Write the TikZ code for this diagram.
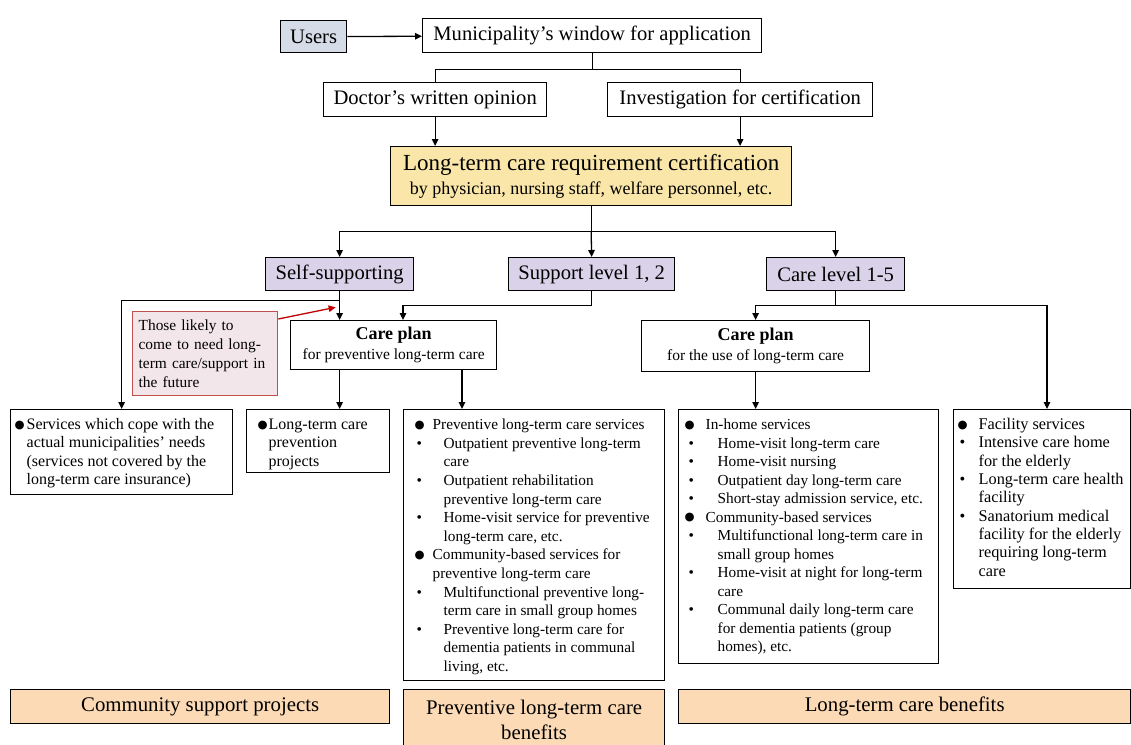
\documentclass[tikz,border=0pt]{standalone}
\usepackage{fontspec}
\setmainfont{Liberation Serif}
\newfontfamily\symf{DejaVu Sans}
\usetikzlibrary{arrows.meta,calc}
\definecolor{cUser}{RGB}{213,220,232}
\definecolor{cCert}{RGB}{249,230,168}
\definecolor{cLav}{RGB}{217,210,233}
\definecolor{cPink}{RGB}{243,230,234}
\definecolor{cRedB}{RGB}{192,80,77}
\definecolor{cRedA}{RGB}{192,0,0}
\definecolor{cPeach}{RGB}{251,218,181}
\newcommand\bigdot{\raisebox{1.6pt}{\symf\fontsize{11.5}{11.5}\selectfont ●}}
\newcommand\smdot{\textbullet}
\newcommand\itm[4]{\mbox{\makebox[#2][l]{\hspace*{#1}#3}#4}}
\newcommand\cnt[2]{\mbox{\hspace*{#1}#2}}
\newcommand\lst[5]{\parbox[c][#1][t]{#2}{\fontsize{#3}{#4}\selectfont\raggedright\rule{0pt}{20pt}#5}}
\tikzset{
  box/.style={draw, line width=1.3pt, anchor=north west, inner sep=0pt, align=center},
  lbox/.style={draw, line width=1.3pt, anchor=north west, inner sep=0pt},
  ln/.style={line width=1.3pt},
  arr/.style={line width=1.3pt, -{Triangle[length=7pt,width=6.5pt]}},
  redarr/.style={line width=1.3pt, draw=cRedA, -{Triangle[length=7pt,width=6.5pt]}},
  big/.style={font=\fontsize{20.6}{24}\selectfont},
}
\begin{document}
\begin{tikzpicture}[x=1pt,y=-1pt]
\useasboundingbox (0,0) rectangle (1131,744);
% top
\node[box, big, fill=cUser, minimum width=66pt, minimum height=32pt] (users) at (280,20) {Users};
\node[box, big, minimum width=339pt, minimum height=34pt] (muni) at (422,18) {Municipality’s window for application};
\node[box, big, minimum width=223pt, minimum height=34pt] (doc) at (323,82) {Doctor’s written opinion};
\node[box, big, minimum width=265pt, minimum height=34pt] (inv) at (607,82) {Investigation for certification};
\node[box, fill=cCert, minimum width=401pt, minimum height=59pt, font=\fontsize{18}{24}\selectfont] (cert) at (390,146)
  {{\fontsize{23}{26}\selectfont Long-term care requirement certification}\\by physician, nursing staff, welfare personnel, etc.};
% levels
\node[box, big, fill=cLav, minimum width=148pt, minimum height=33pt] (self) at (265,257) {Self-supporting};
\node[box, big, fill=cLav, minimum width=166pt, minimum height=33pt] (sup) at (508,257) {Support level 1, 2};
\node[box, big, fill=cLav, minimum width=138pt, minimum height=33pt] (care) at (766,257) {Care level 1-5};
% care plans
\node[box, minimum width=206pt, minimum height=49pt, font=\fontsize{15.5}{20}\selectfont] (cp1) at (290,320)
  {{\fontsize{18}{20}\selectfont\bfseries Care plan}\\for preventive long-term care};
\node[box, minimum width=228pt, minimum height=51pt, font=\fontsize{15.5}{20}\selectfont] (cp2) at (641,320)
  {{\fontsize{18}{20}\selectfont\bfseries Care plan}\\for the use of long-term care};
\node[box, draw=cRedB, fill=cPink, minimum width=145pt, minimum height=84pt, text width=133pt, align=left, font=\fontsize{15.4}{19}\selectfont] (red) at (132,311)
  {Those likely to\\come to need long-\\term care/support in\\the future};
% lists
\node[lbox] (svc) at (10,409) {\lst{85pt}{222pt}{16}{18.3}
  {\itm{4pt}{16pt}{\bigdot}{Services which cope with the}\\
   \cnt{16pt}{actual municipalities’ needs}\\
   \cnt{16pt}{(services not covered by the}\\
   \cnt{16pt}{long-term care insurance)}}};
\node[lbox] (ltcp) at (246,409) {\lst{63pt}{143pt}{16}{18.3}
  {\itm{11pt}{22pt}{\bigdot}{Long-term care}\\
   \cnt{22pt}{prevention}\\
   \cnt{22pt}{projects}}};
\node[lbox] (prev) at (403,409) {\lst{271pt}{261pt}{15.3}{18.6}
  {\itm{11pt}{29pt}{\bigdot}{Preventive long-term care services}\\
   \itm{13pt}{40pt}{\smdot}{Outpatient preventive long-term}\\
   \cnt{40pt}{care}\\
   \itm{13pt}{40pt}{\smdot}{Outpatient rehabilitation}\\
   \cnt{40pt}{preventive long-term care}\\
   \itm{13pt}{40pt}{\smdot}{Home-visit service for preventive}\\
   \cnt{40pt}{long-term care, etc.}\\
   \itm{11pt}{29pt}{\bigdot}{Community-based services for}\\
   \cnt{29pt}{preventive long-term care}\\
   \itm{13pt}{40pt}{\smdot}{Multifunctional preventive long-}\\
   \cnt{40pt}{term care in small group homes}\\
   \itm{13pt}{40pt}{\smdot}{Preventive long-term care for}\\
   \cnt{40pt}{dementia patients in communal}\\
   \cnt{40pt}{living, etc.}}};
\node[lbox] (inhome) at (678,409) {\lst{254pt}{260pt}{15.3}{18.5}
  {\itm{6pt}{27pt}{\bigdot}{In-home services}\\
   \itm{10pt}{39pt}{\smdot}{Home-visit long-term care}\\
   \itm{10pt}{39pt}{\smdot}{Home-visit nursing}\\
   \itm{10pt}{39pt}{\smdot}{Outpatient day long-term care}\\
   \itm{10pt}{39pt}{\smdot}{Short-stay admission service, etc.}\\
   \itm{6pt}{27pt}{\bigdot}{Community-based services}\\
   \itm{10pt}{39pt}{\smdot}{Multifunctional long-term care in}\\
   \cnt{39pt}{small group homes}\\
   \itm{10pt}{39pt}{\smdot}{Home-visit at night for long-term}\\
   \cnt{39pt}{care}\\
   \itm{10pt}{39pt}{\smdot}{Communal daily long-term care}\\
   \cnt{39pt}{for dementia patients (group}\\
   \cnt{39pt}{homes), etc.}}};
\node[lbox] (fac) at (953,409) {\lst{179pt}{177pt}{16.3}{18.3}
  {\itm{4pt}{25pt}{\bigdot}{Facility services}\\
   \itm{6pt}{25pt}{\smdot}{Intensive care home}\\
   \cnt{25pt}{for the elderly}\\
   \itm{6pt}{25pt}{\smdot}{Long-term care health}\\
   \cnt{25pt}{facility}\\
   \itm{6pt}{25pt}{\smdot}{Sanatorium medical}\\
   \cnt{25pt}{facility for the elderly}\\
   \cnt{25pt}{requiring long-term}\\
   \cnt{25pt}{care}}};
% bottom bars
\node[box, fill=cPeach, minimum width=379pt, minimum height=34pt, font=\fontsize{20.8}{24}\selectfont] (bar1) at (10,689) {Community support projects};
\node[box, fill=cPeach, minimum width=261pt, minimum height=61pt, font=\fontsize{20.8}{25}\selectfont] (bar2) at (403,689) {Preventive long-term care\\benefits};
\node[box, fill=cPeach, minimum width=452pt, minimum height=34pt, font=\fontsize{20.8}{24}\selectfont] (bar3) at (678,689) {Long-term care benefits};
% connectors
\draw[arr] (users) -- (muni);
\draw[ln] (muni.south) -- ++(0,16) coordinate (mj) -| (doc.north);
\draw[ln] (mj) -| (inv.north);
\draw[arr] (doc.south) -- (doc.south |- cert.north);
\draw[arr] (inv.south) -- (inv.south |- cert.north);
\draw[arr] (cert.south) -- ++(0,25) coordinate (cj) -| (self.north);
\draw[arr] (cj) -- (sup.north);
\draw[arr] (cj) -| (care.north);
\draw[ln] (self.south) -- ++(0,9) coordinate (sj);
\draw[arr] (sj) -| (svc.north);
\draw[arr] (sj) -- (sj |- cp1.north);
\coordinate (cp1a) at ($(cp1.north west)+(113,0)$);
\draw[arr] (sup.south) -- ++(0,14) -| (cp1a);
\draw[arr] (self.south |- cp1.south) -- (self.south |- ltcp.north);
\coordinate (cp1b) at ($(cp1.south west)+(172,0)$);
\draw[arr] (cp1b) -- (cp1b |- prev.north);
\draw[ln] (care.south) -- ++(0,14) coordinate (kj);
\draw[arr] (kj) -| (cp2.north);
\coordinate (faca) at ($(fac.north west)+(94,0)$);
\draw[arr] (kj) -| (faca);
\draw[arr] (cp2.south) -- (cp2.south |- inhome.north);
\coordinate (redtip) at ($(self.south)+(-4,16)$);
\draw[redarr] ($(red.north east)+(0,8)$) -- (redtip);
\end{tikzpicture}
\end{document}
